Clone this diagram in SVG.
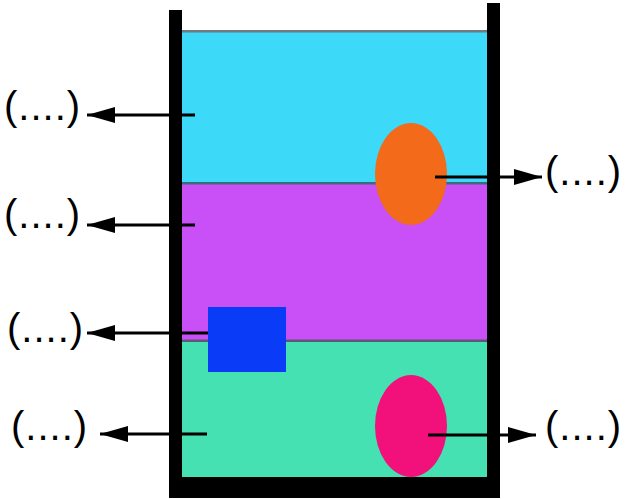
<svg xmlns="http://www.w3.org/2000/svg" width="625" height="499" viewBox="0 0 625 499">
<defs>
<style>
.lbl{font-family:"Liberation Sans",Arial,sans-serif;font-size:40px;fill:#000;letter-spacing:1px}
.arr{stroke:#000;stroke-width:3;fill:none}
</style>
<marker id="ah" markerUnits="userSpaceOnUse" markerWidth="30" markerHeight="18" refX="28" refY="9" orient="auto">
<polygon points="0,1 28,9 0,17" fill="#000"/>
</marker>
</defs>
<rect width="625" height="499" fill="#fff"/>
<g id="container">
<rect x="182" y="31" width="305" height="153" fill="#3DD9F8"/>
<rect x="182" y="183" width="305" height="158" fill="#C94FF6"/>
<rect x="182" y="340" width="305" height="138" fill="#45E1B2"/>
<rect x="182" y="30" width="305" height="2.5" fill="#6f7a80"/>
<rect x="182" y="182" width="305" height="2.5" fill="#3a6a7c"/>
<rect x="182" y="339.5" width="305" height="2.5" fill="#5a5a78"/>
<rect x="169" y="10" width="13" height="488" fill="#000"/>
<rect x="487" y="3" width="13" height="495" fill="#000"/>
<rect x="169" y="477" width="331" height="21" fill="#000"/>
</g>
<g id="orange"><ellipse cx="411" cy="174" rx="36" ry="51" fill="#F26A1A"/></g>
<g id="pink"><ellipse cx="411" cy="426" rx="36" ry="51" fill="#F2107A"/></g>
<g id="blue"><rect x="208" y="307" width="78" height="65" fill="#0A3BF6"/></g>
<g id="connectors">
<line class="arr" x1="195" y1="115" x2="87" y2="115" marker-end="url(#ah)"/>
<line class="arr" x1="195" y1="225" x2="87" y2="225" marker-end="url(#ah)"/>
<line class="arr" x1="208" y1="333" x2="87" y2="333" marker-end="url(#ah)"/>
<line class="arr" x1="207" y1="434" x2="100" y2="434" marker-end="url(#ah)"/>
<line class="arr" x1="435" y1="177" x2="542" y2="177" marker-end="url(#ah)"/>
<line class="arr" x1="428" y1="435" x2="536" y2="435" marker-end="url(#ah)"/>
</g>
<g id="labels">
<text class="lbl" x="4" y="120">(....)</text>
<text class="lbl" x="4" y="228">(....)</text>
<text class="lbl" x="7" y="342">(....)</text>
<text class="lbl" x="11" y="440">(....)</text>
<text class="lbl" x="545" y="185">(....)</text>
<text class="lbl" x="545" y="440">(....)</text>
</g>
</svg>
